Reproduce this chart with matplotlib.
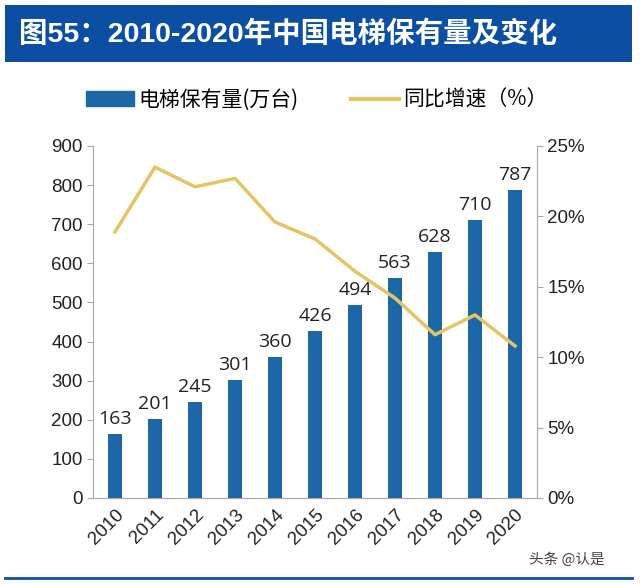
import matplotlib
matplotlib.use("Agg")
from matplotlib import pyplot as plt
from matplotlib.patches import Rectangle
from matplotlib.lines import Line2D

plt.rcParams['font.family'] = ['Liberation Sans', 'Noto Sans CJK SC', 'DejaVu Sans']

years = ["2010", "2011", "2012", "2013", "2014", "2015", "2016", "2017", "2018", "2019", "2020"]
stock = [163, 201, 245, 301, 360, 426, 494, 563, 628, 710, 787]
growth = [18.9, 23.5, 22.1, 22.7, 19.6, 18.4, 16.1, 14.2, 11.6, 13.0, 10.8]

BAR = "#1c68a6"
LINE = "#e3c566"
GREY = "#a6a6a6"
TITLE_BG = "#0b4ea2"
CJK = ['Noto Sans CJK SC', 'DejaVu Sans']

fig = plt.figure(figsize=(6.4, 5.84), dpi=100)

# title bar
fig.patches.append(Rectangle((5/640, 1-62/584), 627/640, 57/584, transform=fig.transFigure,
                             facecolor=TITLE_BG, edgecolor="none"))
fig.text(19/640, 1-34/584, "图55：2010-2020年中国电梯保有量及变化", color="white",
         fontsize=20.5, fontweight="bold", va="center", ha="left",
         family=['Liberation Sans', 'Noto Sans CJK SC'])
fig.lines.append(Line2D([5/640, 632/640], [1-578/584, 1-578/584], transform=fig.transFigure,
                        color=TITLE_BG, linewidth=2))
fig.text(605/640, 1-560/584, "头条 @认是", color="#444444", fontsize=10.5, ha="right",
         va="center", family=CJK)

ax = fig.add_axes([93/640, 1-498/584, (537-93)/640, (498-146)/584])
x = range(len(years))
ax.bar(x, stock, width=0.37, color=BAR, zorder=2)
for i, v in enumerate(stock):
    ax.text(i, v + 16, str(v), ha="center", va="bottom", fontsize=14, color="#222222",
            family=['Open Sans', 'DejaVu Sans'])
ax.set_ylim(0, 900)
ax.set_xlim(-0.55, len(years) - 0.45)
ax.set_yticks(range(0, 901, 100))
ax.set_xticks(list(x))
ax.set_xticklabels(years, rotation=45, ha="right", rotation_mode="anchor")
ax.tick_params(axis="both", labelsize=13.5, colors="#222222", length=4)
ax.tick_params(axis="y", color=GREY)
ax.tick_params(axis="x", length=0, pad=6)
for s in ["top", "right"]:
    ax.spines[s].set_visible(False)
for s in ["left", "bottom"]:
    ax.spines[s].set_color(GREY)

ax2 = ax.twinx()
ax2.plot(list(x), growth, color=LINE, linewidth=2.5, zorder=3)
ax2.set_ylim(0, 25)
ax2.set_yticks(range(0, 26, 5))
ax2.set_yticklabels([f"{t}%" for t in range(0, 26, 5)])
ax2.tick_params(axis="y", labelsize=13.5, colors="#222222", color=GREY, length=4)
for s in ["top", "left", "bottom"]:
    ax2.spines[s].set_visible(False)
ax2.spines["right"].set_color(GREY)

handles = [Rectangle((0, 0), 1, 1, color=BAR), Line2D([0], [0], color=LINE, linewidth=3)]
fig.legend(handles, ["电梯保有量(万台)", "同比增速（%）"], loc="center",
           bbox_to_anchor=(0.495, 1-100/584), ncol=2, frameon=False,
           prop={'family': CJK, 'size': 15}, handlelength=2.3, handletextpad=0.2,
           columnspacing=2.5)

fig.savefig("out.png", dpi=100)
